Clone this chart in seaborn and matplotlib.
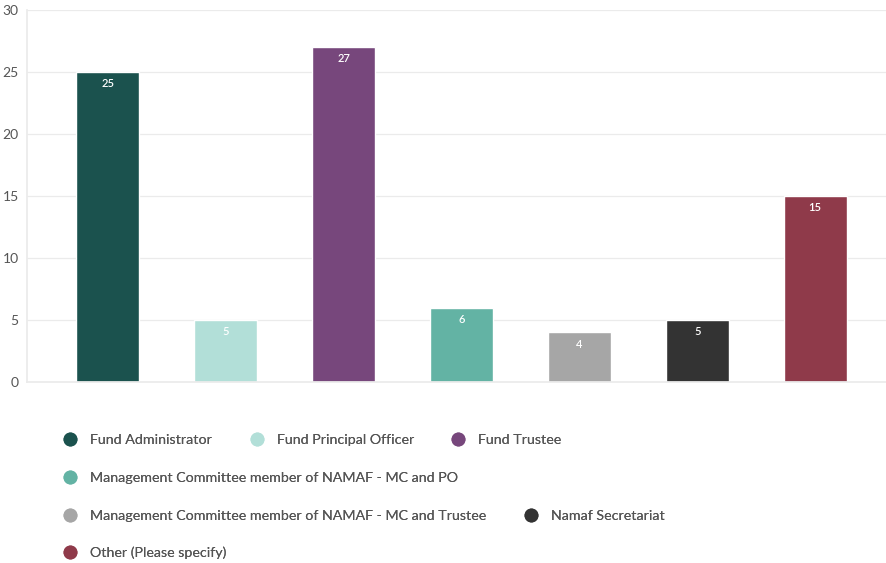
import matplotlib
matplotlib.use("Agg")
import matplotlib.pyplot as plt
from matplotlib.lines import Line2D
import seaborn as sns
import pandas as pd

categories = [
    "Fund Administrator",
    "Fund Principal Officer",
    "Fund Trustee",
    "Management Committee member of NAMAF - MC and PO",
    "Management Committee member of NAMAF - MC and Trustee",
    "Namaf Secretariat",
    "Other (Please specify)",
]
counts = [25, 5, 27, 6, 4, 5, 15]
colors = ["#1b524e", "#b2dfd8", "#77477c", "#63b3a4", "#a6a6a6", "#333333", "#8f3a4a"]
y_ticks = [0, 5, 10, 15, 20, 25, 30]
legend_rows = [[0, 1, 2], [3], [4, 5], [6]]

sns.set_theme(style="white")
plt.rcParams["font.family"] = ["Lato", "DejaVu Sans"]

df = pd.DataFrame({"category": categories, "count": counts})
palette = dict(zip(categories, colors))

fig = plt.figure(figsize=(8.87, 5.63), dpi=100)
ax = fig.add_axes([27 / 887, 1 - 382 / 563, 1 - 27 / 887, (382 - 10) / 563])

sns.barplot(data=df, x="category", y="count", hue="category", palette=palette,
            order=categories, hue_order=categories, width=0.535, dodge=False,
            legend=False, ax=ax, saturation=1)

for i, v in enumerate(counts):
    ax.text(i, v - 0.5, str(v), ha="center", va="top", color="white",
            fontsize=8, fontweight="semibold")

ax.set_ylim(0, 30)
ax.set_xlim(-0.686, 6.61)
ax.set_yticks(y_ticks)
ax.set_yticklabels([str(t) for t in y_ticks], color="#555555", fontsize=10)
ax.set_xticks([])
ax.set_xlabel("")
ax.set_ylabel("")
ax.yaxis.grid(True, color="#ebebeb", linewidth=0.9)
ax.set_axisbelow(True)
ax.tick_params(axis="y", length=0, pad=6)
for side in ["top", "right"]:
    ax.spines[side].set_visible(False)
ax.spines["left"].set_color("#ebebeb")
ax.spines["bottom"].set_color("#ebebeb")

# Legend drawn row by row beneath the bars
row_y = [440, 478, 516, 553]
for row, yy in zip(legend_rows, row_y):
    handles = [Line2D([0], [0], marker="o", linestyle="", markersize=9,
                      markerfacecolor=colors[k], markeredgecolor=colors[k])
               for k in row]
    labels = [categories[k] for k in row]
    leg = fig.legend(handles, labels, loc="center left",
                     bbox_to_anchor=(56 / 887, 1 - yy / 563), ncol=len(row),
                     frameon=False, fontsize=10.3, handletextpad=0.9,
                     columnspacing=2.6, handlelength=1.0, borderpad=0)
    for t in leg.get_texts():
        t.set_color("#555555")
    fig.add_artist(leg)

fig.savefig("out.png", dpi=100)
